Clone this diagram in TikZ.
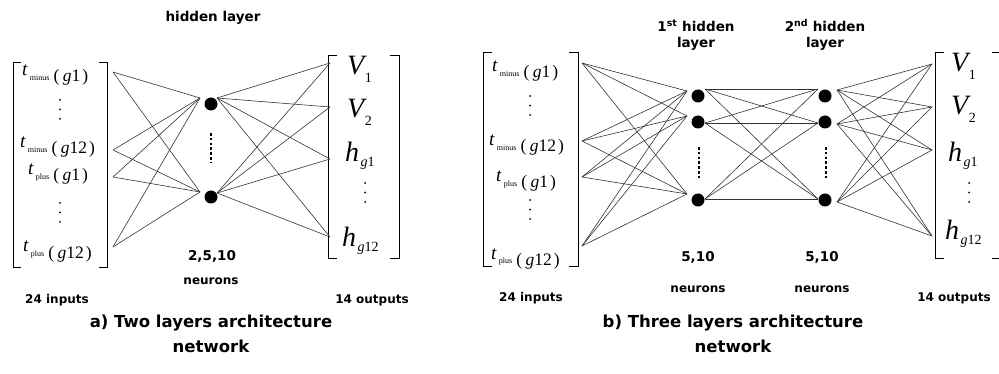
\documentclass[tikz,border=0pt]{standalone}
\usepackage{fontspec}
\setmainfont{Liberation Serif}
\newfontfamily\labf{DejaVu Sans}
\newcommand{\tlab}[2]{{\fontsize{19}{19}\selectfont\itshape t}\hspace{2.5pt}\raisebox{-5pt}{\fontsize{8}{8}\selectfont #1}\hspace{4pt}\raisebox{-6pt}{\fontsize{17.5}{17.5}\selectfont(\hspace{3.5pt}\textit{g}#2\hspace{2pt})}}
\newcommand{\vlab}[1]{{\fontsize{28}{28}\selectfont\itshape V}\hspace{0.5pt}\raisebox{-8pt}{\fontsize{14}{14}\selectfont #1}}
\newcommand{\hlab}[1]{{\fontsize{28}{28}\selectfont\itshape h}\hspace{1.5pt}\raisebox{-5pt}{\fontsize{14}{14}\selectfont\textit{g}#1}}
\begin{document}
\begin{tikzpicture}[x=1pt,y=-1pt,
  conn/.style={draw=black!80, line width=0.6pt},
  neuron/.style={circle, fill=black, inner sep=0pt, minimum size=13pt},
  bigdots/.style={line width=2.8pt, dash pattern=on 2.6pt off 2.2pt},
  smalldots/.style={line width=2pt, line cap=round, dash pattern=on 0pt off 9.5pt},
  brk/.style={line width=0.8pt},
  lab/.style={font={\labf\bfseries\fontsize{13.5}{16}\selectfont}, inner sep=0pt, align=center},
  small/.style={font={\labf\bfseries\fontsize{12}{14}\selectfont}, inner sep=0pt, align=center},
  title/.style={font={\labf\bfseries\fontsize{16.5}{25}\selectfont}, inner sep=0pt, align=center},
  txt/.style={inner sep=0pt, anchor=base west}
]
\useasboundingbox (0,0) rectangle (999,374);
\clip (0,0) rectangle (999,374);

% ================= panel a =================
\node[lab] (aHead) at (213,18) {hidden layer};
% input bracket
\draw[brk] (21,62) -- (13,62) -- (13,267) -- (21,267);
\draw[brk] (99,62) -- (107,62) -- (107,267) -- (99,267);
\node[txt] (aIn1) at (22,76) {\tlab{minus}{1}};
\node[txt] (aIn2) at (20,148) {\tlab{minus}{12}};
\node[txt] (aIn3) at (28,175) {\tlab{plus}{1}};
\node[txt] (aIn4) at (23,252) {\tlab{plus}{12}};
\draw[smalldots] (60,100) -- (60,120);
\draw[smalldots] (60,203) -- (60,223);
% input ports
\coordinate (aI1) at (113,72);
\coordinate (aI2) at (113,150);
\coordinate (aI3) at (113,177);
\coordinate (aI4) at (113,247);
% hidden
\node[neuron] (aH1) at (211,104) {};
\node[neuron] (aH2) at (211,197) {};
\coordinate (aL1) at (200,98);
\coordinate (aL2) at (200,192);
\coordinate (aR1) at (217,98);
\coordinate (aR2) at (217,193);
\draw[bigdots] (211,133) -- (211,163);
% outputs
\coordinate (aO1) at (330,63);
\coordinate (aO2) at (330,107);
\coordinate (aO3) at (330,159);
\coordinate (aO4) at (330,237);
\draw[brk] (337,55) -- (328,55) -- (328,258) -- (337,258);
\draw[brk] (390,55) -- (399,55) -- (399,258) -- (390,258);
\node[txt] (aOut1) at (347,75) {\vlab{1}};
\node[txt] (aOut2) at (347,118) {\vlab{2}};
\node[txt] (aOut3) at (345,162) {\hlab{1}};
\node[txt] (aOut4) at (342,247) {\hlab{12}};
\draw[smalldots] (365,183) -- (365,203);
\foreach \i in {1,...,4}{\foreach \h in {1,2}{
  \draw[conn] (aI\i) -- (aL\h);
  \draw[conn] (aR\h) -- (aO\i);
}}
\node[lab] (aNum) at (212,256) {2,5,10};
\node[small] (aNeu) at (211,281) {neurons};
\node[small] (aInL) at (57,300) {24 inputs};
\node[small] (aOutL) at (372,300) {14 outputs};
\node[title] (aTitle) at (211,334) {a) Two layers architecture\\network};

% ================= panel b =================
\node[lab] (bHead1) at (696,35) {1\textsuperscript{st} hidden\\layer};
\node[lab] (bHead2) at (825,35) {2\textsuperscript{nd} hidden\\layer};
\draw[brk] (492,52) -- (483,52) -- (483,266) -- (492,266);
\draw[brk] (569,52) -- (578,52) -- (578,266) -- (569,266);
\node[txt] (bIn1) at (492,72) {\tlab{minus}{1}};
\node[txt] (bIn2) at (489,146) {\tlab{minus}{12}};
\node[txt] (bIn3) at (496,182) {\tlab{plus}{1}};
\node[txt] (bIn4) at (491,259) {\tlab{plus}{12}};
\draw[smalldots] (530,96) -- (530,116);
\draw[smalldots] (530,200) -- (530,220);
\coordinate (bI1) at (582,63);
\coordinate (bI2) at (582,141);
\coordinate (bI3) at (582,177);
\coordinate (bI4) at (582,246);
% hidden 1
\node[neuron] (bA1) at (698,96) {};
\node[neuron] (bA2) at (698,122) {};
\node[neuron] (bA3) at (698,200) {};
\coordinate (bAL1) at (687,91);
\coordinate (bAL2) at (687,116);
\coordinate (bAL3) at (687,194);
\coordinate (bAR1) at (705,89);
\coordinate (bAR2) at (705,123);
\coordinate (bAR3) at (705,199);
\draw[bigdots] (699,147) -- (699,180);
% hidden 2
\node[neuron] (bB1) at (825,96) {};
\node[neuron] (bB2) at (825,122) {};
\node[neuron] (bB3) at (825,200) {};
\coordinate (bBL1) at (818,89);
\coordinate (bBL2) at (818,123);
\coordinate (bBL3) at (818,199);
\coordinate (bBR1) at (837,90);
\coordinate (bBR2) at (837,124);
\coordinate (bBR3) at (837,202);
\draw[bigdots] (826,147) -- (826,180);
% outputs
\coordinate (bO1) at (932,64);
\coordinate (bO2) at (932,107);
\coordinate (bO3) at (932,150);
\coordinate (bO4) at (932,236);
\draw[brk] (944,52) -- (935,52) -- (935,258) -- (944,258);
\draw[brk] (992,52) -- (1004,52) -- (1004,258) -- (992,258);
\node[txt] (bOut1) at (951,72) {\vlab{1}};
\node[txt] (bOut2) at (951,115) {\vlab{2}};
\node[txt] (bOut3) at (948,162) {\hlab{1}};
\node[txt] (bOut4) at (945,240) {\hlab{12}};
\draw[smalldots] (969,183) -- (969,203);
\foreach \i in {1,...,4}{\foreach \h in {1,2,3}{
  \draw[conn] (bI\i) -- (bAL\h);
  \draw[conn] (bBR\h) -- (bO\i);
}}
\foreach \a in {1,2,3}{\foreach \b in {1,2,3}{
  \draw[conn] (bAR\a) -- (bBL\b);
}}
\node[lab] (bNum1) at (698,257) {5,10};
\node[lab] (bNum2) at (822,257) {5,10};
\node[small] (bNeu1) at (698,289) {neurons};
\node[small] (bNeu2) at (822,289) {neurons};
\node[small] (bInL) at (531,298) {24 inputs};
\node[small] (bOutL) at (954,298) {14 outputs};
\node[title] (bTitle) at (733,334) {b) Three layers architecture\\network};
\end{tikzpicture}
\end{document}
